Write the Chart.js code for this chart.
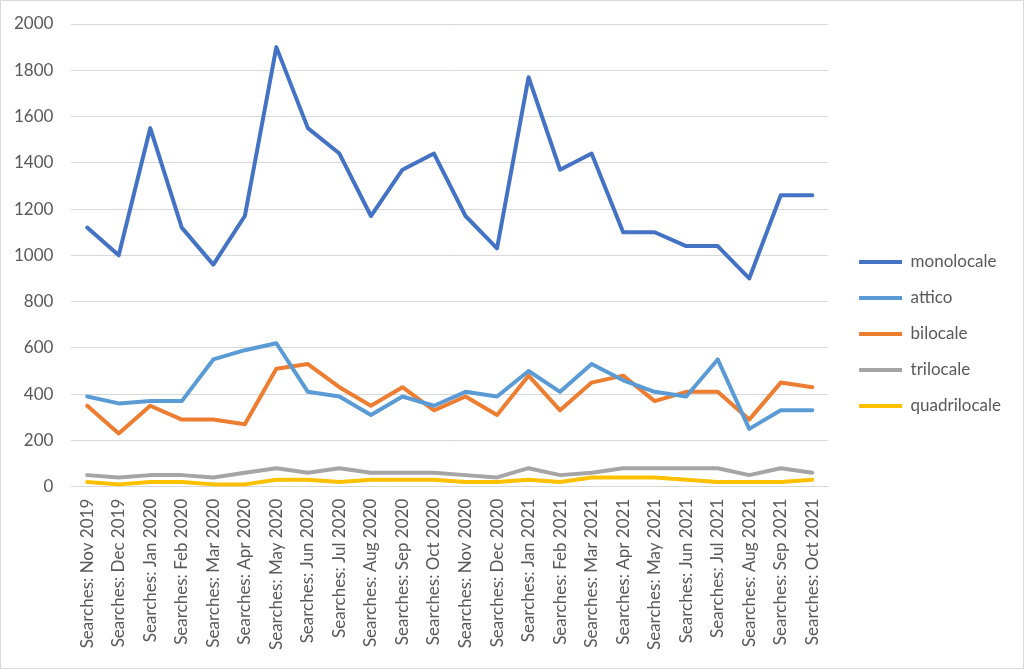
<!DOCTYPE html>
<html>
<head>
<meta charset="utf-8">
<script src="https://cdn.jsdelivr.net/npm/chart.js@4/dist/chart.umd.min.js"></script>
<style>
  body { margin: 0; background: #fff; }
  #wrap { width: 1022px; height: 667px; border: 1px solid #d9d9d9; position: relative; }
</style>
</head>
<body>
<div id="wrap"><canvas id="myChart"></canvas></div>
<script>
// Data
const months = [
    "Nov 2019", "Dec 2019", "Jan 2020", "Feb 2020", "Mar 2020", "Apr 2020",
    "May 2020", "Jun 2020", "Jul 2020", "Aug 2020", "Sep 2020", "Oct 2020",
    "Nov 2020", "Dec 2020", "Jan 2021", "Feb 2021", "Mar 2021", "Apr 2021",
    "May 2021", "Jun 2021", "Jul 2021", "Aug 2021", "Sep 2021", "Oct 2021"
];
const labels = months.map(m => "Searches: " + m);

const monolocale = [1120, 1000, 1550, 1120, 960, 1170, 1900, 1550, 1440, 1170, 1370, 1440,
                    1170, 1030, 1770, 1370, 1440, 1100, 1100, 1040, 1040, 900, 1260, 1260];
const attico = [390, 360, 370, 370, 550, 590, 620, 410, 390, 310, 390, 350,
                410, 390, 500, 410, 530, 460, 410, 390, 550, 250, 330, 330];
const bilocale = [350, 230, 350, 290, 290, 270, 510, 530, 430, 350, 430, 330,
                  390, 310, 480, 330, 450, 480, 370, 410, 410, 290, 450, 430];
const trilocale = [50, 40, 50, 50, 40, 60, 80, 60, 80, 60, 60, 60,
                   50, 40, 80, 50, 60, 80, 80, 80, 80, 50, 80, 60];
const quadrilocale = [20, 10, 20, 20, 10, 10, 30, 30, 20, 30, 30, 30,
                      20, 20, 30, 20, 40, 40, 40, 30, 20, 20, 20, 30];

const yTicks = [0, 200, 400, 600, 800, 1000, 1200, 1400, 1600, 1800, 2000];

const textColor = '#595959';
const gridColor = '#d9d9d9';
const font = { family: 'Lato, "Liberation Sans", sans-serif', size: 17 };

// extra gap between plot and legend, and a small lift of the legend rows
const legendGap = 12;
const legendLift = 3;
const legendSpacing = {
    id: 'legendSpacing',
    afterInit(chart) {
        const legend = chart.legend;
        if (!legend) return;
        const fit = legend.fit;
        legend.fit = function() {
            fit.call(this);
            this.width += legendGap;
        };
    },
    afterLayout(chart) {
        const legend = chart.legend;
        if (!legend) return;
        legend.left += legendGap;
        legend.top -= legendLift;
        legend.bottom -= legendLift;
    }
};

const makeSet = (label, data, color) => ({
    label: label,
    data: data,
    borderColor: color,
    backgroundColor: color,
    borderWidth: 4,
    pointRadius: 0,
    borderJoinStyle: 'round',
    borderCapStyle: 'round',
    tension: 0
});

const ctx = document.getElementById('myChart').getContext('2d');

const chart = new Chart(ctx, {
    type: 'line',
    data: {
        labels: labels,
        datasets: [
            makeSet('monolocale', monolocale, '#4472C4'),
            makeSet('attico', attico, '#5B9BD5'),
            makeSet('bilocale', bilocale, '#ED7D31'),
            makeSet('trilocale', trilocale, '#A5A5A5'),
            makeSet('quadrilocale', quadrilocale, '#FFC000')
        ]
    },
    plugins: [legendSpacing],
    options: {
        responsive: true,
        maintainAspectRatio: false,
        animation: false,
        layout: { padding: { left: -5, right: 12, top: 11, bottom: 6 } },
        plugins: {
            tooltip: { enabled: false },
            legend: {
                position: 'right',
                labels: {
                    font: font,
                    color: textColor,
                    boxWidth: 43,
                    boxHeight: 4,
                    padding: 19,
                    generateLabels: chart => chart.data.datasets.map((ds, i) => ({
                        text: ds.label,
                        fillStyle: ds.borderColor,
                        strokeStyle: ds.borderColor,
                        lineWidth: 0,
                        fontColor: textColor,
                        hidden: false,
                        datasetIndex: i
                    }))
                }
            }
        },
        scales: {
            x: {
                offset: true,
                afterFit: axis => { axis.paddingLeft = 0; axis.paddingRight = 0; },
                grid: { display: false, drawTicks: false },
                border: { display: true, color: gridColor, width: 1 },
                ticks: {
                    font: font,
                    color: textColor,
                    minRotation: 90,
                    maxRotation: 90,
                    padding: 12,
                    autoSkip: false
                }
            },
            y: {
                min: 0,
                max: 2000,
                afterBuildTicks: axis => { axis.ticks = yTicks.map(v => ({ value: v })); },
                afterFit: axis => { axis.paddingTop = 23; axis.paddingBottom = 0; },
                grid: { color: gridColor, lineWidth: 1, drawTicks: false },
                border: { display: false },
                ticks: {
                    font: font,
                    color: textColor,
                    padding: 18,
                    callback: value => String(value)
                }
            }
        }
    }
});
</script>
</body>
</html>
